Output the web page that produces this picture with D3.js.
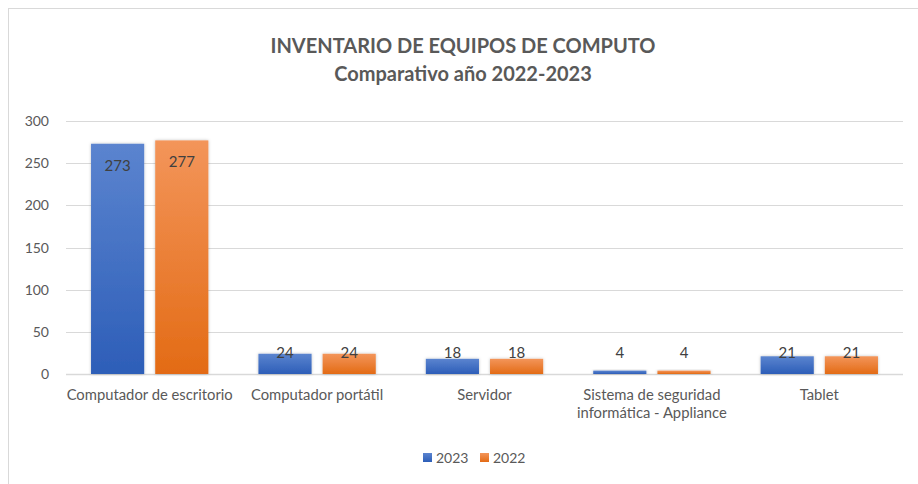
<!DOCTYPE html>
<html><head><meta charset="utf-8">
<script src="https://cdn.jsdelivr.net/npm/d3@7"></script>
<style>
html,body{margin:0;padding:0;background:#fff;}
svg{display:block;font-family:Lato,"Open Sans",sans-serif;}
</style></head>
<body><svg id="c" width="918" height="484"></svg>
<script>
const categories = [["Computador de escritorio"],["Computador portátil"],["Servidor"],["Sistema de seguridad","informática - Appliance"],["Tablet"]];
const series = ["2023","2022"];
const values2023 = [273,24,18,4,21];
const values2022 = [277,24,18,4,21];
const yTicks = [0,50,100,150,200,250,300];
const titleLines = ["INVENTARIO DE EQUIPOS DE COMPUTO","Comparativo año 2022-2023"];

(function(){
const svg = d3.select("#c");
const defs = svg.append("defs");
const grads = [["g2023","#5B84CF","#2D5EB8"],["g2022","#F3955A","#E36B15"]];
grads.forEach(([id,t,b])=>{
  const g = defs.append("linearGradient").attr("id",id).attr("x1",0).attr("y1",0).attr("x2",0).attr("y2",1);
  g.append("stop").attr("offset","0%").attr("stop-color",t);
  g.append("stop").attr("offset","100%").attr("stop-color",b);
});
const f = defs.append("filter").attr("id","sh").attr("x","-20%").attr("y","-20%").attr("width","140%").attr("height","140%");
f.append("feDropShadow").attr("dx",0).attr("dy",0).attr("stdDeviation",1.5).attr("flood-color","#000").attr("flood-opacity",0.25);

svg.append("rect").attr("x",8.5).attr("y",8.5).attr("width",916).attr("height",490)
  .attr("fill","#fff").attr("stroke","#d9d9d9").attr("stroke-width",1);

svg.append("text").attr("x",463).attr("y",53).attr("text-anchor","middle")
  .attr("font-size",20).attr("font-weight","bold").attr("fill","#595959").text(titleLines[0]);
svg.append("text").attr("x",463).attr("y",81).attr("text-anchor","middle")
  .attr("font-size",20).attr("font-weight","bold").attr("fill","#595959").text(titleLines[1]);

const pL = 66, pR = 903, pT = 121, pB = 374;
const x = d3.scaleBand().domain(d3.range(categories.length)).range([pL,pR]).paddingInner(0).paddingOuter(0);
const x1 = d3.scaleBand().domain(series).range([0,x.bandwidth()]).paddingInner(0.172).paddingOuter(0.39);
const y = d3.scaleLinear().domain([0,300]).range([pB,pT]);

svg.append("g").selectAll("line").data(yTicks).join("line")
  .attr("x1",pL).attr("x2",pR)
  .attr("y1",d=>Math.round(y(d))+0.5).attr("y2",d=>Math.round(y(d))+0.5)
  .attr("stroke","#d9d9d9").attr("stroke-width",d=>d===0?1.5:1);

svg.append("g").selectAll("text").data(yTicks).join("text")
  .attr("x",49).attr("y",d=>y(d)+5).attr("text-anchor","end")
  .attr("font-size",14).attr("fill","#595959").text(d=>d);

const data = [values2023, values2022];
series.forEach((s,si)=>{
  const g = svg.append("g");
  g.selectAll("rect").data(data[si]).join("rect")
    .attr("x",(d,i)=>x(i)+x1(s)).attr("width",x1.bandwidth())
    .attr("y",d=>y(d)).attr("height",d=>y(0)-y(d))
    .attr("fill",`url(#g${s})`).attr("filter","url(#sh)");
  g.selectAll("text").data(data[si]).join("text")
    .attr("x",(d,i)=>x(i)+x1(s)+x1.bandwidth()/2)
    .attr("y",d=>Math.min(y(d)+22, y(0)-21)+5)
    .attr("text-anchor","middle").attr("font-size",15).attr("fill","#404040").text(d=>d);
});

const cg = svg.append("g");
categories.forEach((lines,i)=>{
  lines.forEach((ln,k)=>{
    cg.append("text").attr("x",x(i)+x.bandwidth()/2).attr("y",400+k*18)
      .attr("text-anchor","middle").attr("font-size",14.8).attr("fill","#595959").text(ln);
  });
});

const colors = {"2023":"url(#g2023)","2022":"url(#g2022)"};
const legX = [423,480];
series.forEach((s,i)=>{
  svg.append("rect").attr("x",legX[i]).attr("y",453).attr("width",9).attr("height",9).attr("fill",colors[s]);
  svg.append("text").attr("x",legX[i]+13).attr("y",463).attr("font-size",14).attr("fill","#595959").text(s);
});
})();
</script></body></html>
